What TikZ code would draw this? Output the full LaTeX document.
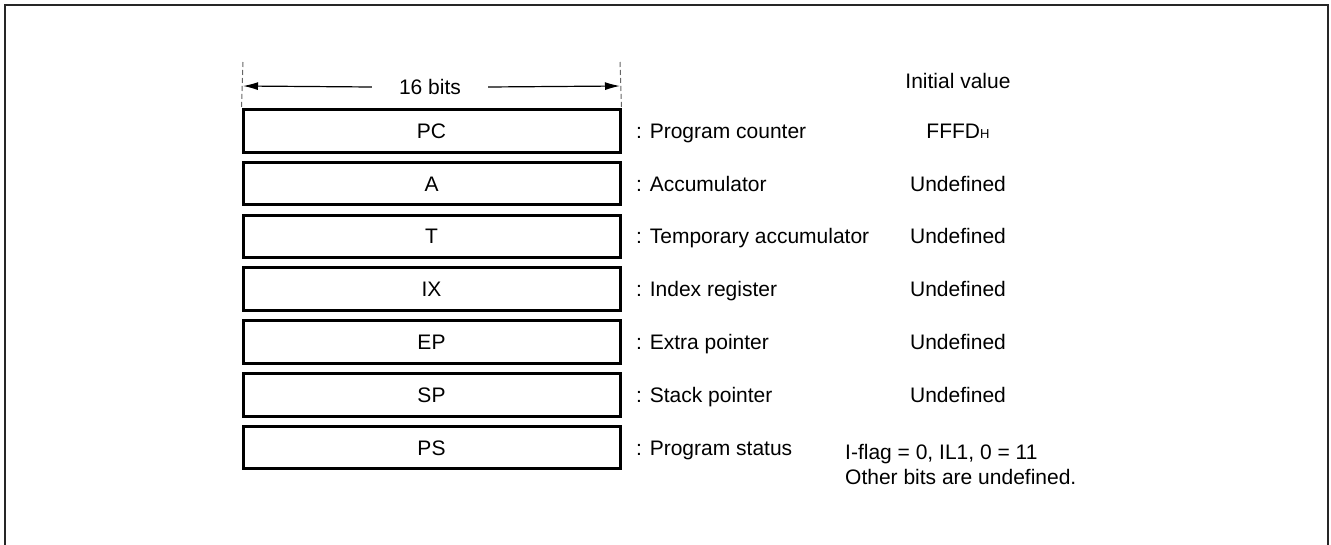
\documentclass[tikz,border=0pt]{standalone}
\usepackage{fontspec}
\setmainfont{Liberation Sans}
\usetikzlibrary{arrows.meta}
\begin{document}
\begin{tikzpicture}[x=1pt,y=-1pt,
  txt/.style={font=\fontsize{21}{25}\selectfont, inner sep=0pt},
  one/.style={txt, text height=15pt, text depth=0pt},
  regbox/.style={draw, line width=3pt, minimum width=377pt, minimum height=42.5pt, inner sep=0pt, one},
  desc/.style={one, anchor=west},
  init/.style={one, anchor=center},
  guide/.style={draw=black!60, line width=1pt, dash pattern=on 5pt off 3pt},
  dimarrow/.style={line width=1.2pt, -{Latex[length=15pt,width=8pt]}}
]
\useasboundingbox (0,0) rectangle (1331,544);
\draw[line width=2pt, black!85] (5,546) -- (5,5) -- (1328,5) -- (1328,546);

\foreach \n/\lab/\d/\v [count=\i from 0] in {pc/PC/Program counter/{FFFD{\fontsize{13}{13}\selectfont H}},
  a/A/Accumulator/Undefined,
  t/T/Temporary accumulator/Undefined,
  ix/IX/Index register/Undefined,
  ep/EP/Extra pointer/Undefined,
  sp/SP/Stack pointer/Undefined}{
  \node[regbox] (\n) at (431.5, {130.8+52.8*\i}) {\lab};
  \node[desc] (\n-d) at (636, {130.8+52.8*\i}) {: \d};
  \node[init] (\n-v) at (958, {130.8+52.8*\i}) {\v};
}
\node[regbox] (ps) at (431.5, {130.8+52.8*6}) {PS};
\node[desc] (ps-d) at (636, {130.8+52.8*6}) {: Program status};
\node[one, anchor=west] (ps-v1) at (845, 452) {I-flag = 0, IL1, 0 = 11};
\node[one, anchor=west] (ps-v2) at (845, 477) {Other bits are undefined.};

\node[init] (head) at (958, 80.5) {Initial value};

\coordinate (gl) at (243, 62);
\coordinate (gr) at (620, 62);
\draw[guide] (gl) -- (pc.north west);
\draw[guide] (gr) -- (pc.north east);

\node[one] (bits) at (430, 86.5) {16 bits};
\coordinate (al) at (243, 86);
\coordinate (ar) at (620, 86);
\draw[dimarrow] (bits.west) ++(-27pt,-0.5pt) coordinate (bl) -- (al);
\draw[dimarrow] (bits.east) ++(27pt,-0.5pt) coordinate (br) -- (ar);
\end{tikzpicture}
\end{document}
